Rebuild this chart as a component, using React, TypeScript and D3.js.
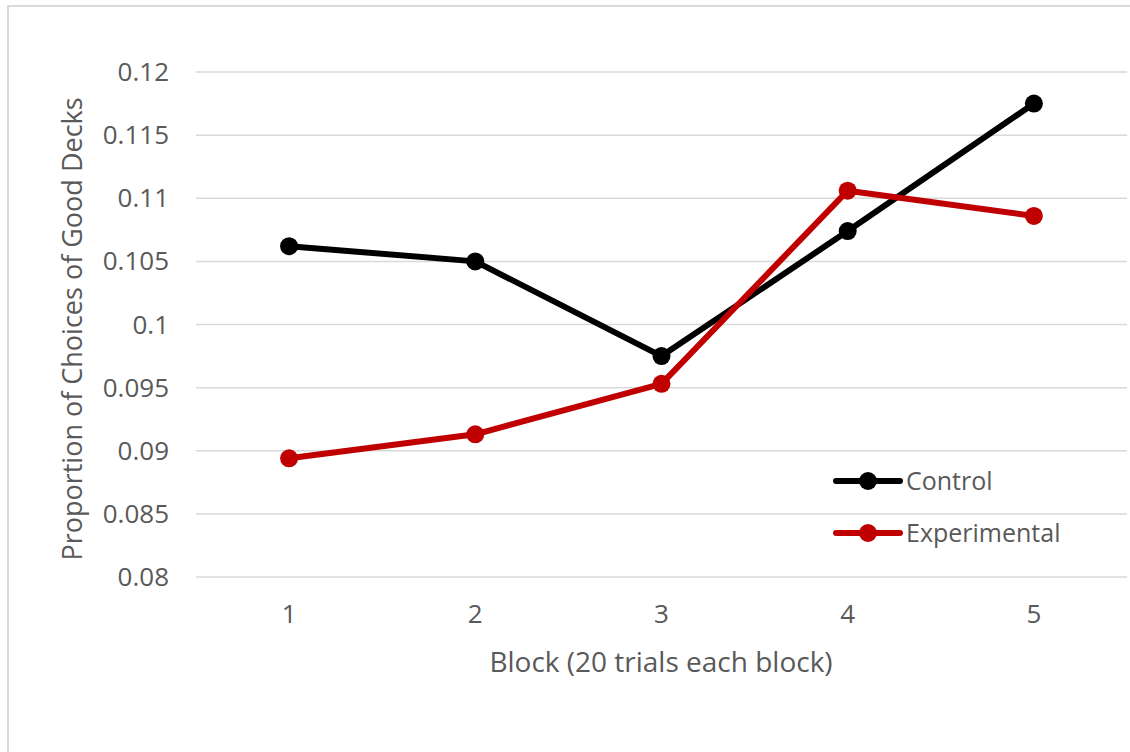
import { useRef, useEffect } from "react";
import * as d3 from "d3";

const blocks = ["1", "2", "3", "4", "5"];
const control = [0.1062, 0.105, 0.0975, 0.1074, 0.1175];
const experimental = [0.0894, 0.0913, 0.0953, 0.1106, 0.1086];
const yTicks = [0.08, 0.085, 0.09, 0.095, 0.1, 0.105, 0.11, 0.115, 0.12];

const series = [
  { name: "Control", values: control, color: "#000000" },
  { name: "Experimental", values: experimental, color: "#c00000" },
];

const W = 1130;
const H = 752;
const FONT = "Open Sans, Calibri, sans-serif";

export default function App() {
  const ref = useRef<SVGSVGElement>(null);

  useEffect(() => {
    const svg = d3.select(ref.current);
    svg.selectAll("*").remove();

    // chart border (cropped on right and bottom)
    svg.append("rect")
      .attr("x", 8).attr("y", 6)
      .attr("width", 1140).attr("height", 760)
      .attr("fill", "#fff")
      .attr("stroke", "#d9d9d9")
      .attr("stroke-width", 2);

    const left = 196, right = 1127, top = 72, bottom = 577;

    const x = d3.scaleBand().domain(blocks).range([left, right]);
    const y = d3.scaleLinear().domain([0.08, 0.12]).range([bottom, top]);

    // gridlines
    svg.append("g")
      .selectAll("line")
      .data(yTicks)
      .join("line")
      .attr("x1", left).attr("x2", right)
      .attr("y1", d => y(d)).attr("y2", d => y(d))
      .attr("stroke", "#d9d9d9")
      .attr("stroke-width", 1.5);

    // y tick labels
    svg.append("g")
      .selectAll("text")
      .data(yTicks)
      .join("text")
      .attr("x", 169)
      .attr("y", d => y(d))
      .attr("dy", "0.35em")
      .attr("text-anchor", "end")
      .attr("font-family", FONT)
      .attr("font-size", 26)
      .attr("fill", "#595959")
      .text(d => String(d));

    // x tick labels
    svg.append("g")
      .selectAll("text")
      .data(blocks)
      .join("text")
      .attr("x", d => x(d)! + x.bandwidth() / 2)
      .attr("y", 614)
      .attr("dy", "0.35em")
      .attr("text-anchor", "middle")
      .attr("font-family", FONT)
      .attr("font-size", 26)
      .attr("fill", "#595959")
      .text(d => d);

    // axis titles
    svg.append("text")
      .attr("x", 661)
      .attr("y", 662)
      .attr("dy", "0.35em")
      .attr("text-anchor", "middle")
      .attr("font-family", FONT)
      .attr("font-size", 28)
      .attr("fill", "#595959")
      .text("Block (20 trials each block)");

    svg.append("text")
      .attr("transform", `translate(73,329) rotate(-90)`)
      .attr("dy", "0.35em")
      .attr("text-anchor", "middle")
      .attr("font-family", FONT)
      .attr("font-size", 27)
      .attr("fill", "#595959")
      .text("Proportion of Choices of Good Decks");

    const line = d3.line<number>()
      .x((_, i) => x(blocks[i])! + x.bandwidth() / 2)
      .y(d => y(d));

    series.forEach(s => {
      svg.append("path")
        .datum(s.values)
        .attr("d", line)
        .attr("fill", "none")
        .attr("stroke", s.color)
        .attr("stroke-width", 6)
        .attr("stroke-linejoin", "round");
      svg.append("g")
        .selectAll("circle")
        .data(s.values)
        .join("circle")
        .attr("cx", (_, i) => x(blocks[i])! + x.bandwidth() / 2)
        .attr("cy", d => y(d))
        .attr("r", 9)
        .attr("fill", s.color);
    });

    // legend
    const lg = svg.append("g");
    series.forEach((s, i) => {
      const ly = 481 + i * 52;
      lg.append("line")
        .attr("x1", 836).attr("x2", 900)
        .attr("y1", ly).attr("y2", ly)
        .attr("stroke", s.color)
        .attr("stroke-width", 6)
        .attr("stroke-linecap", "round");
      lg.append("circle")
        .attr("cx", 868).attr("cy", ly).attr("r", 9)
        .attr("fill", s.color);
      lg.append("text")
        .attr("x", 906).attr("y", ly)
        .attr("dy", "0.35em")
        .attr("font-family", FONT)
        .attr("font-size", 25)
        .attr("fill", "#595959")
        .text(s.name);
    });
  }, []);

  return (
    <svg
      ref={ref}
      width={W}
      height={H}
      style={{ position: "absolute", left: 0, top: 0, background: "#fff" }}
    />
  );
}
